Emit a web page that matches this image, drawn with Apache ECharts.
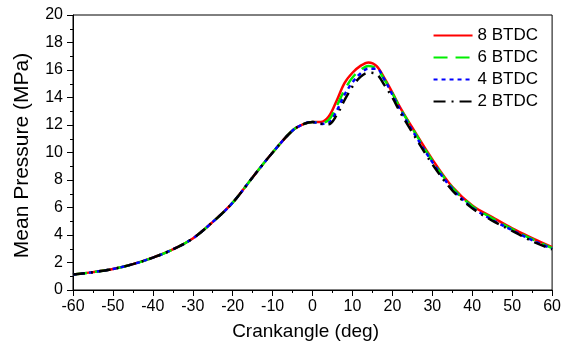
<!DOCTYPE html>
<html>
<head>
<meta charset="utf-8">
<script src="https://cdn.jsdelivr.net/npm/echarts@6/dist/echarts.min.js"></script>
<style>html,body{margin:0;padding:0;background:#fff}#c{width:564px;height:349px}</style>
</head>
<body>
<div id="c"></div>
<script>
// Crank angle (deg)
var crankAngle = [-60,-55,-50,-45,-40,-35,-30,-25,-20,-15,-10,-5,-2,0,2,4,6,8,10,12,14,16,18,20,22,25,30,35,40,45,50,55,60];
// Mean pressure (MPa) per injection timing
var btdc8 = [1.12,1.3,1.53,1.88,2.35,2.95,3.75,4.95,6.35,8.2,10.0,11.6,12.1,12.22,12.22,12.6,13.75,15.05,15.8,16.3,16.55,16.3,15.4,14.35,13.25,11.8,9.5,7.5,6.15,5.3,4.48,3.78,3.12];
var btdc6 = [1.12,1.3,1.53,1.88,2.35,2.95,3.75,4.95,6.35,8.2,10.0,11.6,12.1,12.22,12.15,12.35,13.35,14.55,15.45,16.0,16.3,16.1,15.3,14.3,13.2,11.75,9.4,7.45,6.1,5.22,4.42,3.7,3.05];
var btdc4 = [1.12,1.3,1.53,1.88,2.35,2.95,3.75,4.95,6.35,8.2,10.0,11.6,12.1,12.22,12.08,12.15,13.0,14.2,15.1,15.75,16.1,16.1,15.3,14.2,13.1,11.6,9.3,7.35,6.0,5.1,4.35,3.62,3.0];
var btdc2 = [1.12,1.3,1.53,1.88,2.35,2.95,3.75,4.95,6.35,8.2,10.0,11.6,12.1,12.22,12.1,12.05,12.7,13.8,14.8,15.5,15.8,15.7,14.9,14.0,12.9,11.45,9.15,7.25,5.95,5.05,4.3,3.55,2.95];
var seriesNames = ['8 BTDC','6 BTDC','4 BTDC','2 BTDC'];
var xTicks = {min:-60, max:60, step:10};
var yTicks = {min:0, max:20, step:2};

function pairs(ys){ return crankAngle.map(function(x,i){ return [x, ys[i]]; }); }
var FONT = "'Liberation Sans', Arial, sans-serif";
var chart = echarts.init(document.getElementById('c'), null, {renderer:'canvas'});
var styles = [
  {color:'#ff0000', type:'solid'},
  {color:'#00ee00', type:[14,8]},
  {color:'#0000ff', type:[4,4]},
  {color:'#000000', type:[12,6,2,6]}
];
var dataSets = [btdc8, btdc6, btdc4, btdc2];
chart.setOption({
  animation:false,
  backgroundColor:'#fff',
  textStyle:{fontFamily:FONT},
  grid:{left:73, right:10, top:15, bottom:59, show:true, borderColor:'#000', borderWidth:1, backgroundColor:'transparent'},
  legend:{
    orient:'vertical', right:21, top:22, itemWidth:39, itemHeight:14, itemGap:5,
    data:seriesNames,
    itemStyle:{opacity:0},
    textStyle:{fontFamily:FONT, fontSize:17, color:'#000'}
  },
  xAxis:{
    type:'value', min:xTicks.min, max:xTicks.max, interval:xTicks.step,
    name:'Crankangle (deg)', nameLocation:'middle', nameGap:32,
    nameTextStyle:{fontFamily:FONT, fontSize:19, color:'#000', padding:[0,14,0,0]},
    axisLine:{show:true, onZero:false, lineStyle:{color:'#000', width:1}},
    axisTick:{show:true, inside:false, length:6, lineStyle:{color:'#000'}},
    minorTick:{show:true, splitNumber:2, length:3, lineStyle:{color:'#000'}},
    splitLine:{show:false},
    axisLabel:{fontFamily:FONT, fontSize:16, color:'#000', margin:9}
  },
  yAxis:{
    type:'value', min:yTicks.min, max:yTicks.max, interval:yTicks.step,
    name:'Mean Pressure (MPa)', nameLocation:'middle', nameGap:40,
    nameTextStyle:{fontFamily:FONT, fontSize:21, color:'#000', padding:[0,6,0,0]},
    axisLine:{show:true, onZero:false, lineStyle:{color:'#000', width:1}},
    axisTick:{show:true, inside:false, length:6, lineStyle:{color:'#000'}},
    minorTick:{show:true, splitNumber:2, length:3, lineStyle:{color:'#000'}},
    splitLine:{show:false},
    axisLabel:{fontFamily:FONT, fontSize:16, color:'#000', margin:10}
  },
  series: seriesNames.map(function(n,i){
    return {
      name:n, type:'line', data:pairs(dataSets[i]), smooth:0.35, symbol:'none',
      lineStyle:{color:styles[i].color, type:styles[i].type, width:2.5},
      itemStyle:{color:styles[i].color},
      z:2+i
    };
  })
});
</script>
</body>
</html>
